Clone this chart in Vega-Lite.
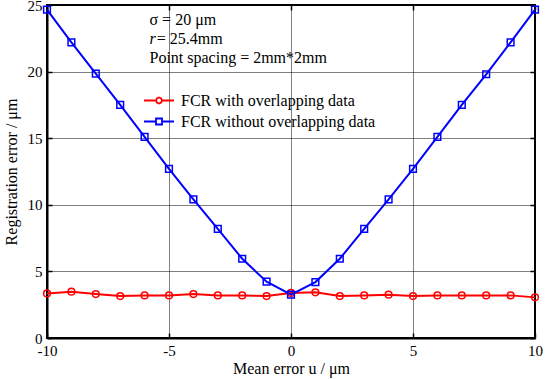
{
  "$schema": "https://vega.github.io/schema/vega-lite/v6.json",
  "width": 488,
  "height": 333,
  "autosize": {"type": "none"},
  "padding": {"left": 47, "top": 5, "right": 13, "bottom": 41},
  "background": "white",
  "config": {
    "font": "Liberation Serif",
    "view": {"stroke": "black", "strokeWidth": 2},
    "axis": {
      "labelFont": "Liberation Serif",
      "titleFont": "Liberation Serif",
      "labelFontSize": 15,
      "titleFontSize": 16,
      "labelColor": "black",
      "titleColor": "black",
      "titleFontWeight": "normal",
      "domainColor": "black",
      "domainWidth": 2,
      "tickColor": "black",
      "tickWidth": 1.5,
      "tickSize": -5
    },
    "legend": {
      "title": null, "orient": "none", "padding": 0,
      "symbolSize": 900, "symbolStrokeWidth": 1.8, "clipHeight": 21, "rowPadding": 0,
      "labelFont": "Liberation Serif", "labelFontSize": 16, "labelColor": "black", "labelOffset": 6, "labelLimit": 400
    }
  },
  "datasets": {
    "series": [
      {"x": -10, "y": 3.35, "s": "FCR with overlapping data"},
      {"x": -9, "y": 3.48, "s": "FCR with overlapping data"},
      {"x": -8, "y": 3.3, "s": "FCR with overlapping data"},
      {"x": -7, "y": 3.15, "s": "FCR with overlapping data"},
      {"x": -6, "y": 3.2, "s": "FCR with overlapping data"},
      {"x": -5, "y": 3.2, "s": "FCR with overlapping data"},
      {"x": -4, "y": 3.3, "s": "FCR with overlapping data"},
      {"x": -3, "y": 3.2, "s": "FCR with overlapping data"},
      {"x": -2, "y": 3.2, "s": "FCR with overlapping data"},
      {"x": -1, "y": 3.15, "s": "FCR with overlapping data"},
      {"x": 0, "y": 3.38, "s": "FCR with overlapping data"},
      {"x": 1, "y": 3.43, "s": "FCR with overlapping data"},
      {"x": 2, "y": 3.15, "s": "FCR with overlapping data"},
      {"x": 3, "y": 3.2, "s": "FCR with overlapping data"},
      {"x": 4, "y": 3.25, "s": "FCR with overlapping data"},
      {"x": 5, "y": 3.15, "s": "FCR with overlapping data"},
      {"x": 6, "y": 3.2, "s": "FCR with overlapping data"},
      {"x": 7, "y": 3.2, "s": "FCR with overlapping data"},
      {"x": 8, "y": 3.2, "s": "FCR with overlapping data"},
      {"x": 9, "y": 3.2, "s": "FCR with overlapping data"},
      {"x": 10, "y": 3.05, "s": "FCR with overlapping data"},
      {"x": -10, "y": 24.65, "s": "FCR without overlapping data"},
      {"x": -9, "y": 22.2, "s": "FCR without overlapping data"},
      {"x": -8, "y": 19.85, "s": "FCR without overlapping data"},
      {"x": -7, "y": 17.5, "s": "FCR without overlapping data"},
      {"x": -6, "y": 15.1, "s": "FCR without overlapping data"},
      {"x": -5, "y": 12.7, "s": "FCR without overlapping data"},
      {"x": -4, "y": 10.4, "s": "FCR without overlapping data"},
      {"x": -3, "y": 8.2, "s": "FCR without overlapping data"},
      {"x": -2, "y": 5.95, "s": "FCR without overlapping data"},
      {"x": -1, "y": 4.23, "s": "FCR without overlapping data"},
      {"x": 0, "y": 3.25, "s": "FCR without overlapping data"},
      {"x": 1, "y": 4.2, "s": "FCR without overlapping data"},
      {"x": 2, "y": 5.95, "s": "FCR without overlapping data"},
      {"x": 3, "y": 8.2, "s": "FCR without overlapping data"},
      {"x": 4, "y": 10.4, "s": "FCR without overlapping data"},
      {"x": 5, "y": 12.7, "s": "FCR without overlapping data"},
      {"x": 6, "y": 15.1, "s": "FCR without overlapping data"},
      {"x": 7, "y": 17.5, "s": "FCR without overlapping data"},
      {"x": 8, "y": 19.8, "s": "FCR without overlapping data"},
      {"x": 9, "y": 22.2, "s": "FCR without overlapping data"},
      {"x": 10, "y": 24.65, "s": "FCR without overlapping data"}
    ],
    "notes": [
      {"x": -5.8, "y": 23.85, "t": "σ = 20 μm", "style": "normal"},
      {"x": -5.8, "y": 22.45, "t": "r", "style": "italic"},
      {"x": -5.5, "y": 22.45, "t": "= 25.4mm", "style": "normal"},
      {"x": -5.8, "y": 21.02, "t": "Point spacing = 2mm*2mm", "style": "normal"}
    ]
  },
  "resolve": {"scale": {"shape": "independent"}, "legend": {"shape": "independent"}, "axis": {"x": "independent", "y": "independent"}},
  "layer": [
    {
      "data": {"name": "series"},
      "mark": {"type": "line", "strokeWidth": 2},
      "encoding": {
        "x": {
          "field": "x", "type": "quantitative",
          "scale": {"domain": [-10, 10], "nice": false},
          "axis": {"orient": "bottom", "values": [-10, -5, 0, 5, 10], "title": "Mean error u / μm", "labelPadding": 10, "titlePadding": 2, "labelFlush": false, "labelExpr": "'' + datum.value", "grid": true, "gridColor": "black", "gridDash": [1, 1], "gridWidth": 1, "gridOpacity": 1}
        },
        "y": {
          "field": "y", "type": "quantitative",
          "scale": {"domain": [0, 25], "nice": false},
          "axis": {"orient": "left", "values": [0, 5, 10, 15, 20, 25], "title": "Registration error / μm", "labelPadding": 10, "titlePadding": 8, "labelFlush": false, "grid": true, "gridColor": "black", "gridDash": [1, 1], "gridWidth": 1, "gridOpacity": 1}
        },
        "color": {
          "field": "s", "type": "nominal",
          "scale": {"domain": ["FCR with overlapping data", "FCR without overlapping data"], "range": ["#ff0000", "#0000ff"]},
          "legend": null
        }
      }
    },
    {
      "data": {"name": "series"},
      "mark": {"type": "point", "filled": false, "strokeWidth": 1.5, "size": 45, "opacity": 1},
      "encoding": {
        "x": {"field": "x", "type": "quantitative", "axis": {"orient": "top", "values": [-10, -5, 0, 5, 10], "labels": false, "title": null, "grid": false, "domain": false}},
        "y": {"field": "y", "type": "quantitative", "axis": {"orient": "right", "values": [0, 5, 10, 15, 20, 25], "labels": false, "title": null, "grid": false, "domain": false}},
        "color": {"field": "s", "type": "nominal", "legend": null},
        "shape": {
          "field": "s", "type": "nominal",
          "scale": {"domain": ["FCR with overlapping data", "FCR without overlapping data"], "range": ["circle", "square"]},
          "legend": null
        }
      }
    },
    {
      "data": {"name": "series"},
      "transform": [{"filter": "false"}],
      "mark": {"type": "point", "filled": false, "strokeWidth": 1.8, "opacity": 1, "color": "#ff0000"},
      "encoding": {
        "x": {"field": "x", "type": "quantitative", "axis": null},
        "y": {"field": "y", "type": "quantitative", "axis": null},
        "shape": {
          "field": "s", "type": "nominal",
          "scale": {"domain": ["FCR with overlapping data"], "range": ["M-1,0L-0.2,0M0.2,0L1,0M-0.2,0L-0.14,-0.14L0,-0.2L0.14,-0.14L0.2,0L0.14,0.14L0,0.2L-0.14,0.14Z"]},
          "legend": {"legendX": 96, "legendY": 85}
        }
      }
    },
    {
      "data": {"name": "series"},
      "transform": [{"filter": "false"}],
      "mark": {"type": "point", "filled": false, "strokeWidth": 1.8, "opacity": 1, "color": "#0000ff"},
      "encoding": {
        "x": {"field": "x", "type": "quantitative", "axis": null},
        "y": {"field": "y", "type": "quantitative", "axis": null},
        "shape": {
          "field": "s", "type": "nominal",
          "scale": {"domain": ["FCR without overlapping data"], "range": ["M-1,0L-0.2,0M0.2,0L1,0M-0.2,-0.2L0.2,-0.2L0.2,0.2L-0.2,0.2Z"]},
          "legend": {"legendX": 96, "legendY": 106}
        }
      }
    },
    {
      "data": {"name": "notes"},
      "transform": [{"filter": "datum.style === 'normal'"}],
      "mark": {"type": "text", "align": "left", "baseline": "middle", "fontSize": 16, "font": "Liberation Serif", "color": "black"},
      "encoding": {
        "x": {"field": "x", "type": "quantitative", "axis": null},
        "y": {"field": "y", "type": "quantitative", "axis": null},
        "text": {"field": "t"}
      }
    },
    {
      "data": {"name": "notes"},
      "transform": [{"filter": "datum.style === 'italic'"}],
      "mark": {"type": "text", "align": "left", "baseline": "middle", "fontSize": 16, "font": "Liberation Serif", "fontStyle": "italic", "color": "black"},
      "encoding": {
        "x": {"field": "x", "type": "quantitative", "axis": null},
        "y": {"field": "y", "type": "quantitative", "axis": null},
        "text": {"field": "t"}
      }
    }
  ]
}
